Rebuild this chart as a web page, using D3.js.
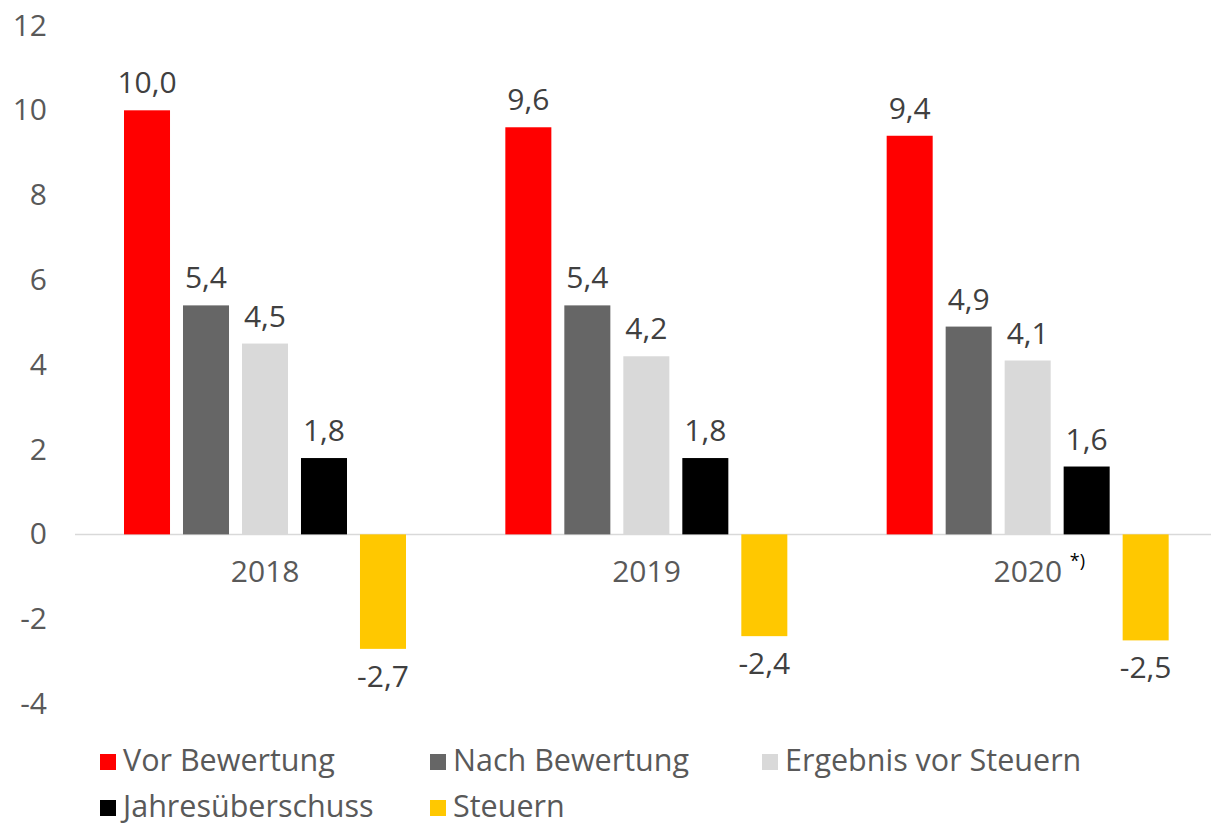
<!DOCTYPE html>
<html>
<head>
<meta charset="UTF-8">
<title></title>
<script src="https://d3js.org/d3.v7.min.js"></script>
<style>
  body { margin: 0; background: #fff; }
  text { font-family: "Open Sans", sans-serif; }
</style>
</head>
<body>
<div id="chart"></div>
<script>
// data
var years = ["2018", "2019", "2020"];
var seriesNames = ["Vor Bewertung", "Nach Bewertung", "Ergebnis vor Steuern", "Jahresüberschuss", "Steuern"];
var seriesColors = ["#ff0000", "#666666", "#d9d9d9", "#000000", "#ffc800"];
var vorBewertung = [10.0, 9.6, 9.4];
var nachBewertung = [5.4, 5.4, 4.9];
var ergebnisVorSteuern = [4.5, 4.2, 4.1];
var jahresueberschuss = [1.8, 1.8, 1.6];
var steuern = [-2.7, -2.4, -2.5];
var yTicks = [-4, -2, 0, 2, 4, 6, 8, 10, 12];

var allSeries = [vorBewertung, nachBewertung, ergebnisVorSteuern, jahresueberschuss, steuern];

var width = 1211, height = 826;

var svg = d3.select("#chart").append("svg")
  .attr("width", width)
  .attr("height", height);

// scales
var x0 = d3.scaleBand().domain(years).range([74.5, 1218.5]).padding(0);
var x1 = d3.scaleBand().domain(d3.range(seriesNames.length))
  .range([49.5, 331.5]).paddingInner(0.22).paddingOuter(0);
var y = d3.scaleLinear().domain([-4, 12]).range([704, 25.5]);

var fmt = function(v) { return d3.format(".1f")(v).replace(".", ",").replace("−", "-"); };

// y axis labels
var yAxis = d3.axisLeft(y).tickValues(yTicks).tickSize(0).tickPadding(0)
  .tickFormat(function(d) { return d3.format("d")(d).replace("−", "-"); });
var gy = svg.append("g").attr("transform", "translate(47,0)").call(yAxis);
gy.select(".domain").remove();
gy.selectAll("text").attr("font-size", 30).attr("fill", "#595959")
  .attr("font-family", "Open Sans, sans-serif");

// zero line
svg.append("line")
  .attr("x1", 75).attr("x2", width)
  .attr("y1", y(0)).attr("y2", y(0))
  .attr("stroke", "#d9d9d9").attr("stroke-width", 1.5);

// bars
var rows = [];
years.forEach(function(yr, i) {
  allSeries.forEach(function(s, j) {
    rows.push({ year: yr, idx: j, value: s[i] });
  });
});

svg.selectAll("rect.bar").data(rows).enter().append("rect")
  .attr("class", "bar")
  .attr("x", function(d) { return x0(d.year) + x1(d.idx); })
  .attr("width", x1.bandwidth())
  .attr("y", function(d) { return y(Math.max(0, d.value)); })
  .attr("height", function(d) { return Math.abs(y(d.value) - y(0)); })
  .attr("fill", function(d) { return seriesColors[d.idx]; });

// value labels
svg.selectAll("text.val").data(rows).enter().append("text")
  .attr("class", "val")
  .attr("x", function(d) { return x0(d.year) + x1(d.idx) + x1.bandwidth() / 2; })
  .attr("y", function(d) { return d.value >= 0 ? y(d.value) - 17 : y(d.value) + 38; })
  .attr("text-anchor", "middle")
  .attr("font-size", 30)
  .attr("fill", "#404040")
  .text(function(d) { return fmt(d.value); });

// category labels
var cats = svg.selectAll("g.cat").data(years).enter().append("g").attr("class", "cat");
cats.append("text")
  .attr("x", function(d) { return x0(d) + x0.bandwidth() / 2; })
  .attr("y", 582)
  .attr("text-anchor", "middle")
  .attr("font-size", 30)
  .attr("fill", "#595959")
  .text(function(d) { return d; });

svg.append("text")
  .attr("x", x0("2020") + x0.bandwidth() / 2 + 42)
  .attr("y", 567)
  .attr("font-size", 18)
  .attr("fill", "#000")
  .text("*)");

// legend
var legendPos = [[100, 762], [430, 762], [762, 762], [100, 808], [430, 808]];
var leg = svg.selectAll("g.leg").data(seriesNames).enter().append("g")
  .attr("class", "leg")
  .attr("transform", function(d, i) { return "translate(" + legendPos[i][0] + "," + legendPos[i][1] + ")"; });
leg.append("rect")
  .attr("x", 0).attr("y", -8).attr("width", 16).attr("height", 16)
  .attr("fill", function(d, i) { return seriesColors[i]; });
leg.append("text")
  .attr("x", 23).attr("y", 9)
  .attr("font-size", 30.5)
  .attr("fill", "#595959")
  .text(function(d) { return d; });
</script>
</body>
</html>
